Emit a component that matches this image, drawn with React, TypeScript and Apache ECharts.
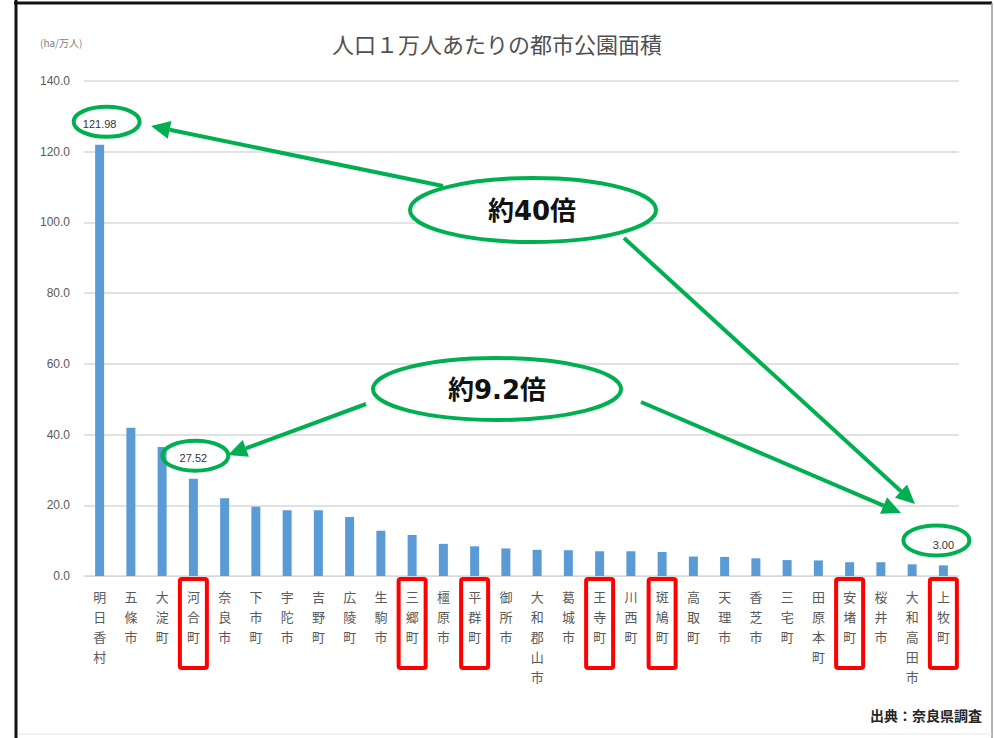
import { useEffect, useRef } from "react";
import * as echarts from "echarts";

const categories = [
  "明日香村", "五條市", "大淀町", "河合町", "奈良市", "下市町", "宇陀市", "吉野町",
  "広陵町", "生駒市", "三郷町", "橿原市", "平群町", "御所市", "大和郡山市", "葛城市",
  "王寺町", "川西町", "斑鳩町", "高取町", "天理市", "香芝市", "三宅町", "田原本町",
  "安堵町", "桜井市", "大和高田市", "上牧町",
];
const values = [
  121.98, 41.9, 36.5, 27.52, 22.0, 19.6, 18.6, 18.6,
  16.7, 12.8, 11.6, 9.1, 8.4, 7.8, 7.4, 7.3,
  7.0, 7.0, 6.8, 5.5, 5.4, 5.0, 4.5, 4.4,
  3.9, 3.9, 3.3, 3.0,
];
const labeledCategories = ["明日香村", "河合町", "上牧町"];
const highlightedCategories = ["河合町", "三郷町", "平群町", "王寺町", "斑鳩町", "安堵町", "上牧町"];
const titleText = "人口１万人あたりの都市公園面積";
const unitText = "(ha/万人)";
const sourceText = "出典：奈良県調査";
const ratio40Text = "約40倍";
const ratio92Text = "約9.2倍";

const GREEN = "#00B050";
const JP = "'Noto Sans CJK JP', 'Noto Sans', sans-serif";
const BIG = "'DejaVu Sans', 'Noto Sans CJK JP', sans-serif";

function arrow(x1: number, y1: number, x2: number, y2: number) {
  const a = Math.atan2(y2 - y1, x2 - x1);
  const L = 19, W = 9;
  const c = Math.cos(a), s = Math.sin(a);
  const bx = x2 - L * c, by = y2 - L * s;
  return [
    { type: "line", shape: { x1, y1, x2: bx, y2: by }, style: { stroke: GREEN, lineWidth: 4 }, z: 100 },
    {
      type: "polygon",
      shape: { points: [[x2, y2], [bx - W * s, by + W * c], [bx + W * s, by - W * c]] },
      style: { fill: GREEN },
      z: 100,
    },
  ];
}

export default function App() {
  const ref = useRef<HTMLDivElement>(null);
  useEffect(() => {
    const chart = echarts.init(ref.current!, null, { renderer: "svg" });
    chart.setOption({
      animation: false,
      backgroundColor: "#ffffff",
      title: {
        text: titleText,
        left: "center",
        top: 27,
        textStyle: { fontFamily: JP, fontSize: 22, color: "#505050", fontWeight: "normal" },
      },
      grid: { left: 84, right: 35, top: 81, bottom: 162, containLabel: false },
      xAxis: {
        type: "category",
        data: categories,
        axisTick: { show: false },
        axisLine: { lineStyle: { color: "#D9D9D9", width: 1 } },
        axisLabel: {
          interval: 0,
          fontFamily: JP,
          fontSize: 13,
          lineHeight: 20,
          color: "#595959",
          margin: 10,
          formatter: (v: string) => v.split("").join("\n"),
        },
      },
      yAxis: {
        type: "value",
        min: 0,
        max: 140,
        interval: 20,
        axisLine: { show: false },
        axisTick: { show: false },
        splitLine: { lineStyle: { color: "#D9D9D9", width: 1.5 } },
        axisLabel: {
          fontFamily: "'Liberation Sans Narrow', 'Liberation Sans', sans-serif",
          fontSize: 12,
          color: "#595959",
          margin: 14,
          formatter: (v: number) => v.toFixed(1),
        },
      },
      series: [
        {
          type: "bar",
          barWidth: 9,
          itemStyle: { color: "#5B9BD5" },
          data: values.map((v, i) => ({
            value: v,
            label: {
              show: labeledCategories.includes(categories[i]),
              position: "top",
              distance: 15,
              fontSize: 11,
              color: "#333333",
              fontFamily: "'Liberation Sans Narrow', 'Liberation Sans', sans-serif",
              formatter: (p: any) => Number(p.value).toFixed(2),
            },
          })),
        },
      ],
    });

    const px = (i: number, v: number) => chart.convertToPixel({ gridIndex: 0 }, [i, v]) as number[];
    const graphics: any[] = [];

    // Frame
    graphics.push(
      { type: "line", shape: { x1: 14, y1: 3, x2: 992, y2: 3 }, style: { stroke: "#111", lineWidth: 3 } },
      { type: "line", shape: { x1: 16, y1: 0, x2: 16, y2: 738 }, style: { stroke: "#111", lineWidth: 3 } },
      { type: "line", shape: { x1: 992, y1: 3, x2: 992, y2: 738 }, style: { stroke: "#9a9a9a", lineWidth: 1.5 } },
      { type: "line", shape: { x1: 18, y1: 734, x2: 992, y2: 734 }, style: { stroke: "#e6e6e6", lineWidth: 1 } }
    );

    // Unit and source
    graphics.push(
      {
        type: "text",
        x: 40,
        y: 42,
        style: { text: unitText, fontFamily: JP, fontSize: 10, fill: "#7f7f7f", verticalAlign: "middle" },
      },
      {
        type: "text",
        x: 982,
        y: 715,
        style: {
          text: sourceText, fontFamily: JP, fontSize: 14, fontWeight: "bold", fill: "#262626",
          align: "right", verticalAlign: "middle",
        },
      }
    );

    // Red boxes around highlighted x labels
    highlightedCategories.forEach((name) => {
      const i = categories.indexOf(name);
      const [cx, y0] = px(i, 0);
      graphics.push({
        type: "rect",
        shape: { x: cx - 13.5, y: y0 + 3, width: 27, height: 89, r: 2 },
        style: { fill: "none", stroke: "#FF0000", lineWidth: 4 },
        z: 90,
      });
    });

    // Ellipses around value labels
    const labelEllipse = (name: string, dx: number, dy: number) => {
      const i = categories.indexOf(name);
      const [cx, top] = px(i, values[i]);
      return {
        type: "ellipse",
        shape: { cx: cx + dx, cy: top - 23 + dy, rx: 33, ry: 15 },
        style: { fill: "none", stroke: GREEN, lineWidth: 4 },
        z: 100,
      };
    };
    graphics.push(labelEllipse("明日香村", 7, 0));
    graphics.push(labelEllipse("河合町", 2, 0));
    graphics.push(labelEllipse("上牧町", -7, -2));

    // Big ratio ellipses
    graphics.push(
      {
        type: "ellipse",
        shape: { cx: 533, cy: 210, rx: 123, ry: 32 },
        style: { fill: "#ffffff", stroke: GREEN, lineWidth: 4 },
        z: 100,
      },
      {
        type: "text",
        x: 532,
        y: 211,
        style: {
          text: ratio40Text, fontFamily: BIG, fontSize: 26, fontWeight: "bold", fill: "#111",
          align: "center", verticalAlign: "middle",
        },
        z: 101,
      },
      {
        type: "ellipse",
        shape: { cx: 497, cy: 389, rx: 124, ry: 31 },
        style: { fill: "#ffffff", stroke: GREEN, lineWidth: 4 },
        z: 100,
      },
      {
        type: "text",
        x: 497,
        y: 390,
        style: {
          text: ratio92Text, fontFamily: BIG, fontSize: 26, fontWeight: "bold", fill: "#111",
          align: "center", verticalAlign: "middle",
        },
        z: 101,
      }
    );

    // Arrows
    graphics.push(...arrow(443, 186, 151, 126));
    graphics.push(...arrow(624, 238, 915, 504));
    graphics.push(...arrow(366, 404, 228, 455));
    graphics.push(...arrow(641, 402, 901, 513));

    chart.setOption({ graphic: graphics });
    return () => chart.dispose();
  }, []);
  return (
    <div
      ref={ref}
      style={{ position: "fixed", left: 0, top: 0, width: 994, height: 738, background: "#fff" }}
    />
  );
}
